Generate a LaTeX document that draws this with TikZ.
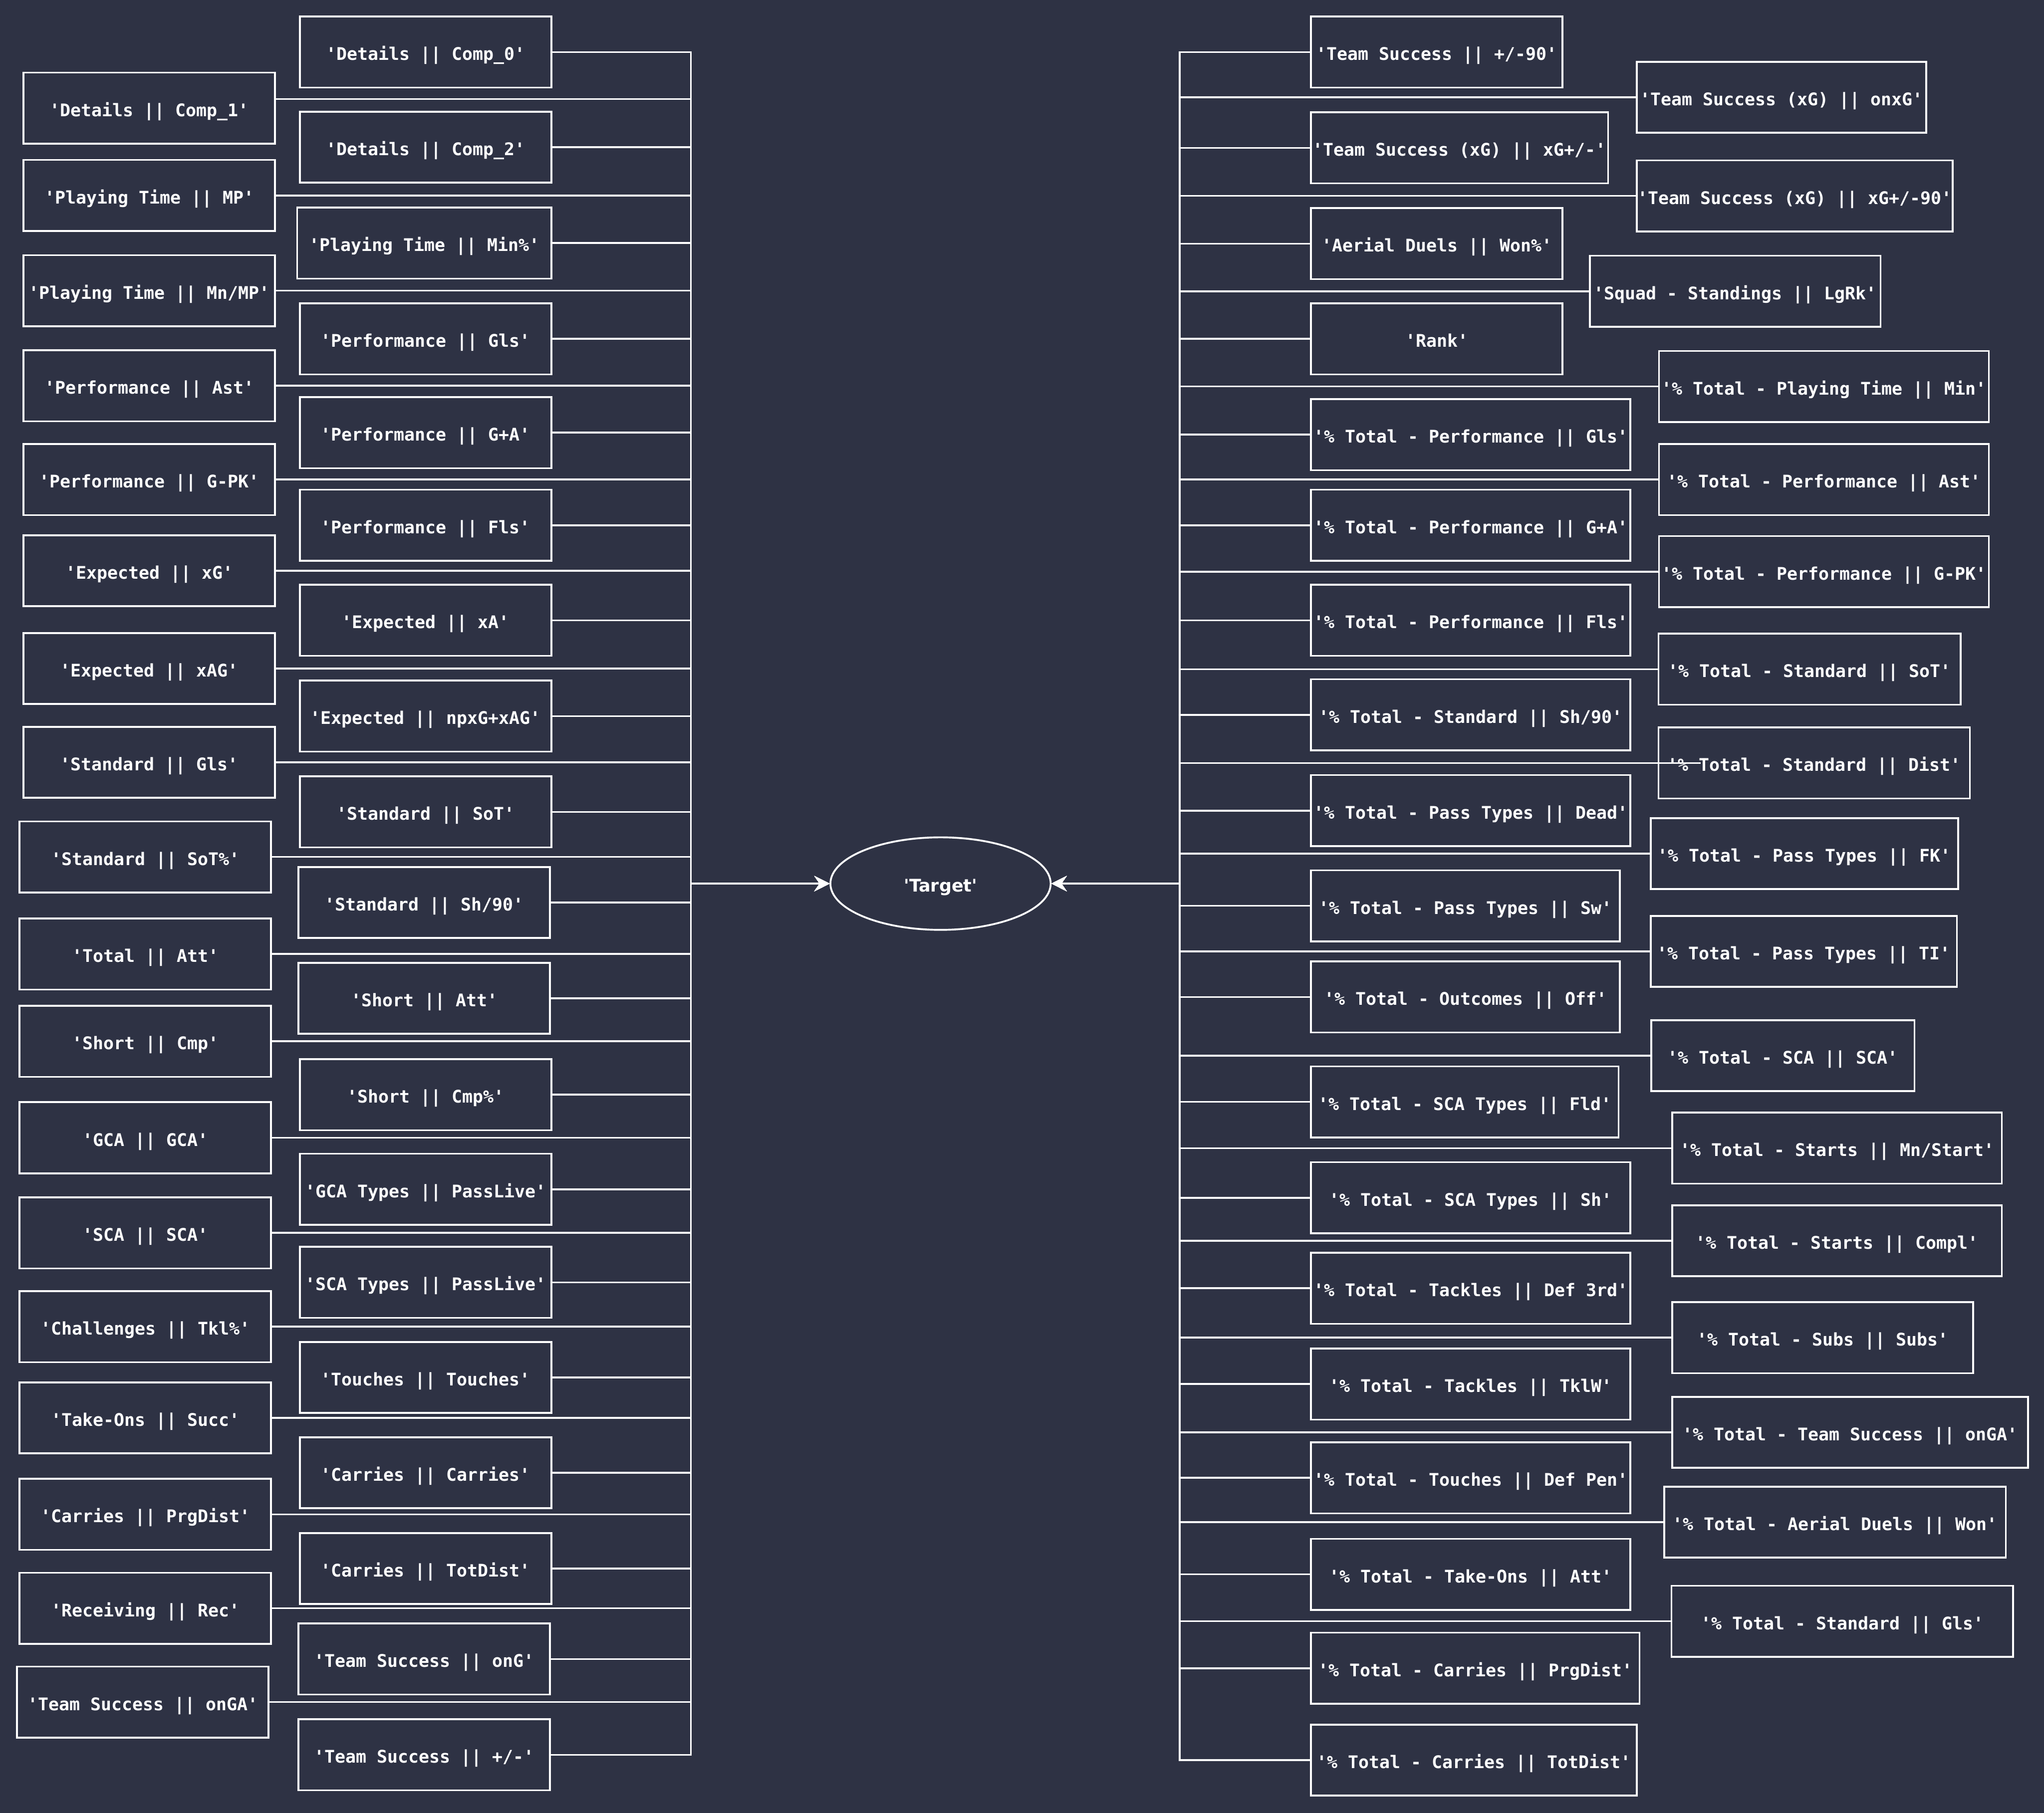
\documentclass[tikz,border=0pt]{standalone}
\usepackage{fontspec}
\setmonofont{DejaVu Sans Mono}
\newfontfamily\targetfont{DejaVu Sans}
\usetikzlibrary{arrows.meta, shapes.geometric}
\definecolor{bgdark}{HTML}{2E3244}
\tikzstyle{field} = [rectangle, draw=white, line width=0.8pt, minimum width=3.86cm, minimum height=1.09cm, inner xsep=0.01cm, text height=7.2pt, text depth=0pt, text=white, font=\ttfamily\bfseries\fontsize{7.6pt}{9pt}\selectfont]
\tikzstyle{outcome} = [ellipse, draw=white, line width=0.8pt, minimum width=3.38cm, minimum height=1.42cm, inner sep=0pt, text height=7.2pt, text depth=0pt, text=white, font=\targetfont\bfseries\fontsize{7.6pt}{9pt}\selectfont]
\tikzstyle{link} = [white, line width=0.8pt, -{Stealth[length=2.3mm, width=2.3mm, inset=0.8mm]}]

\begin{document}
\begin{tikzpicture}[x=0.02cm, y=-0.02cm]
\fill [bgdark] (0,0) rectangle (1568,1391);
\useasboundingbox (0,0) rectangle (1568,1391);

\node (tgt) [outcome] at (721.5,678) {\textquotesingle Target\textquotesingle};
\coordinate (ljoin) at (530,678);
\coordinate (rjoin) at (905,678);

\node (a1) [field] at (114.5,83) {'Details || Comp\_1'};
\node (a2) [field] at (114.5,150) {'Playing Time || MP'};
\node (a3) [field] at (114.5,223) {'Playing Time || Mn/MP'};
\node (a4) [field] at (114.5,296) {'Performance || Ast'};
\node (a5) [field] at (114.5,368) {'Performance || G-PK'};
\node (a6) [field] at (114.5,438) {'Expected || xG'};
\node (a7) [field] at (114.5,513) {'Expected || xAG'};
\node (a8) [field] at (114.5,585) {'Standard || Gls'};
\node (a9) [field] at (111.5,657.5) {'Standard || SoT\%'};
\node (a10) [field] at (111.5,732) {'Total || Att'};
\node (a11) [field] at (111.5,799) {'Short || Cmp'};
\node (a12) [field] at (111.5,873) {'GCA || GCA'};
\node (a13) [field] at (111.5,946) {'SCA || SCA'};
\node (a14) [field] at (111.5,1018) {'Challenges || Tkl\%'};
\node (a15) [field] at (111.5,1088) {'Take-Ons || Succ'};
\node (a16) [field] at (111.5,1162) {'Carries || PrgDist'};
\node (a17) [field] at (111.5,1234) {'Receiving || Rec'};
\node (a18) [field] at (109.5,1306) {'Team Success || onGA'};

\node (b1) [field] at (326.5,40) {'Details || Comp\_0'};
\node (b2) [field] at (326.5,113) {'Details || Comp\_2'};
\node (b3) [field, minimum width=3.9cm] at (325.5,186.5) {'Playing Time || Min\%'};
\node (b4) [field] at (326.5,260) {'Performance || Gls'};
\node (b5) [field] at (326.5,332) {'Performance || G+A'};
\node (b6) [field] at (326.5,403) {'Performance || Fls'};
\node (b7) [field] at (326.5,476) {'Expected || xA'};
\node (b8) [field] at (326.5,549.5) {'Expected || npxG+xAG'};
\node (b9) [field] at (326.5,623) {'Standard || SoT'};
\node (b10) [field] at (325.5,692.5) {'Standard || Sh/90'};
\node (b11) [field] at (325.5,766) {'Short || Att'};
\node (b12) [field] at (326.5,840) {'Short || Cmp\%'};
\node (b13) [field] at (326.5,912.5) {'GCA Types || PassLive'};
\node (b14) [field] at (326.5,984) {'SCA Types || PassLive'};
\node (b15) [field] at (326.5,1057) {'Touches || Touches'};
\node (b16) [field] at (326.5,1130) {'Carries || Carries'};
\node (b17) [field] at (326.5,1203.5) {'Carries || TotDist'};
\node (b18) [field] at (325.5,1273) {'Team Success || onG'};
\node (b19) [field] at (325.5,1346.5) {'Team Success || +/-'};

\node (c1) [field, anchor=west] at (1005,40) {'Team Success || +/-90'};
\node (c2) [field, anchor=west, minimum width=4.56cm] at (1005,113.5) {'Team Success (xG) || xG+/-'};
\node (c3) [field, anchor=west] at (1005,187) {'Aerial Duels || Won\%'};
\node (c4) [field, anchor=west] at (1005,260) {'Rank'};
\node (c5) [field, anchor=west, minimum width=4.9cm] at (1005,333.5) {'\% Total - Performance || Gls'};
\node (c6) [field, anchor=west, minimum width=4.9cm] at (1005,403) {'\% Total - Performance || G+A'};
\node (c7) [field, anchor=west, minimum width=4.9cm] at (1005,476) {'\% Total - Performance || Fls'};
\node (c8) [field, anchor=west, minimum width=4.9cm] at (1005,548.5) {'\% Total - Standard || Sh/90'};
\node (c9) [field, anchor=west, minimum width=4.9cm] at (1005,622) {'\% Total - Pass Types || Dead'};
\node (c10) [field, anchor=west, minimum width=4.74cm] at (1005,695) {'\% Total - Pass Types || Sw'};
\node (c11) [field, anchor=west, minimum width=4.74cm] at (1005,765) {'\% Total - Outcomes || Off'};
\node (c12) [field, anchor=west, minimum width=4.72cm] at (1005,845.5) {'\% Total - SCA Types || Fld'};
\node (c13) [field, anchor=west, minimum width=4.9cm] at (1005,919) {'\% Total - SCA Types || Sh'};
\node (c14) [field, anchor=west, minimum width=4.9cm] at (1005,988.5) {'\% Total - Tackles || Def 3rd'};
\node (c15) [field, anchor=west, minimum width=4.9cm] at (1005,1062) {'\% Total - Tackles || TklW'};
\node (c16) [field, anchor=west, minimum width=4.9cm] at (1005,1134) {'\% Total - Touches || Def Pen'};
\node (c17) [field, anchor=west, minimum width=4.9cm] at (1005,1208) {'\% Total - Take-Ons || Att'};
\node (c18) [field, anchor=west, minimum width=5.04cm] at (1005,1280) {'\% Total - Carries || PrgDist'};
\node (c19) [field, anchor=west, minimum width=5cm] at (1005,1350.5) {'\% Total - Carries || TotDist'};

\node (d1) [field, anchor=west, minimum width=4.44cm] at (1255,74.6) {'Team Success (xG) || onxG'};
\node (d2) [field, anchor=west, minimum width=4.84cm] at (1255,150.3) {'Team Success (xG) || xG+/-90'};
\node (d3) [field, anchor=west, minimum width=4.46cm] at (1219,223.5) {'Squad - Standings || LgRk'};
\node (d4) [field, anchor=west, minimum width=5.06cm] at (1272,296.5) {'\% Total - Playing Time || Min'};
\node (d5) [field, anchor=west, minimum width=5.06cm] at (1272,368) {'\% Total - Performance || Ast'};
\node (d6) [field, anchor=west, minimum width=5.06cm] at (1272,438.6) {'\% Total - Performance || G-PK'};
\node (d7) [field, anchor=west, minimum width=4.64cm] at (1271.5,513.5) {'\% Total - Standard || SoT'};
\node (d8) [field, anchor=west, minimum width=4.78cm] at (1271.5,585.5) {'\% Total - Standard || Dist'};
\node (d9) [field, anchor=west, minimum width=4.72cm] at (1265.5,655) {'\% Total - Pass Types || FK'};
\node (d10) [field, anchor=west, minimum width=4.7cm] at (1265.5,730) {'\% Total - Pass Types || TI'};
\node (d11) [field, anchor=west, minimum width=4.04cm] at (1266,810) {'\% Total - SCA || SCA'};
\node (d12) [field, anchor=west, minimum width=5.06cm] at (1282,881) {'\% Total - Starts || Mn/Start'};
\node (d13) [field, anchor=west, minimum width=5.06cm] at (1282,952) {'\% Total - Starts || Compl'};
\node (d14) [field, anchor=west, minimum width=4.62cm] at (1282,1026.4) {'\% Total - Subs || Subs'};
\node (d15) [field, anchor=west, minimum width=5.46cm] at (1282,1099) {'\% Total - Team Success || onGA'};
\node (d16) [field, anchor=west, minimum width=5.24cm] at (1276,1168) {'\% Total - Aerial Duels || Won'};
\node (d17) [field, anchor=west, minimum width=5.24cm] at (1281.5,1244) {'\% Total - Standard || Gls'};

\draw [link] ([yshift=0.14cm]a1.east) -| (ljoin) -- (tgt);
\draw [link] (a2.east) -| (ljoin) -- (tgt);
\draw [link] (a3.east) -| (ljoin) -- (tgt);
\draw [link] (a4.east) -| (ljoin) -- (tgt);
\draw [link] (a5.east) -| (ljoin) -- (tgt);
\draw [link] (a6.east) -| (ljoin) -- (tgt);
\draw [link] (a7.east) -| (ljoin) -- (tgt);
\draw [link] (a8.east) -| (ljoin) -- (tgt);
\draw [link] (a9.east) -| (ljoin) -- (tgt);
\draw [link] (a10.east) -| (ljoin) -- (tgt);
\draw [link] (a11.east) -| (ljoin) -- (tgt);
\draw [link] (a12.east) -| (ljoin) -- (tgt);
\draw [link] (a13.east) -| (ljoin) -- (tgt);
\draw [link] (a14.east) -| (ljoin) -- (tgt);
\draw [link] (a15.east) -| (ljoin) -- (tgt);
\draw [link] (a16.east) -| (ljoin) -- (tgt);
\draw [link] (a17.east) -| (ljoin) -- (tgt);
\draw [link] (a18.east) -| (ljoin) -- (tgt);

\draw [link] (b1.east) -| (ljoin) -- (tgt);
\draw [link] (b2.east) -| (ljoin) -- (tgt);
\draw [link] (b3.east) -| (ljoin) -- (tgt);
\draw [link] (b4.east) -| (ljoin) -- (tgt);
\draw [link] (b5.east) -| (ljoin) -- (tgt);
\draw [link] (b6.east) -| (ljoin) -- (tgt);
\draw [link] (b7.east) -| (ljoin) -- (tgt);
\draw [link] (b8.east) -| (ljoin) -- (tgt);
\draw [link] (b9.east) -| (ljoin) -- (tgt);
\draw [link] (b10.east) -| (ljoin) -- (tgt);
\draw [link] (b11.east) -| (ljoin) -- (tgt);
\draw [link] (b12.east) -| (ljoin) -- (tgt);
\draw [link] (b13.east) -| (ljoin) -- (tgt);
\draw [link] (b14.east) -| (ljoin) -- (tgt);
\draw [link] (b15.east) -| (ljoin) -- (tgt);
\draw [link] (b16.east) -| (ljoin) -- (tgt);
\draw [link] (b17.east) -| (ljoin) -- (tgt);
\draw [link] (b18.east) -| (ljoin) -- (tgt);
\draw [link] (b19.east) -| (ljoin) -- (tgt);

\draw [link] (c1.west) -| (rjoin) -- (tgt);
\draw [link] (c2.west) -| (rjoin) -- (tgt);
\draw [link] (c3.west) -| (rjoin) -- (tgt);
\draw [link] (c4.west) -| (rjoin) -- (tgt);
\draw [link] (c5.west) -| (rjoin) -- (tgt);
\draw [link] (c6.west) -| (rjoin) -- (tgt);
\draw [link] (c7.west) -| (rjoin) -- (tgt);
\draw [link] (c8.west) -| (rjoin) -- (tgt);
\draw [link] (c9.west) -| (rjoin) -- (tgt);
\draw [link] (c10.west) -| (rjoin) -- (tgt);
\draw [link] (c11.west) -| (rjoin) -- (tgt);
\draw [link] (c12.west) -| (rjoin) -- (tgt);
\draw [link] (c13.west) -| (rjoin) -- (tgt);
\draw [link] (c14.west) -| (rjoin) -- (tgt);
\draw [link] (c15.west) -| (rjoin) -- (tgt);
\draw [link] (c16.west) -| (rjoin) -- (tgt);
\draw [link] (c17.west) -| (rjoin) -- (tgt);
\draw [link] (c18.west) -| (rjoin) -- (tgt);
\draw [link] (c19.west) -| (rjoin) -- (tgt);

\draw [link] (d1.west) -| (rjoin) -- (tgt);
\draw [link] (d2.west) -| (rjoin) -- (tgt);
\draw [link] (d3.west) -| (rjoin) -- (tgt);
\draw [link] (d4.west) -| (rjoin) -- (tgt);
\draw [link] (d5.west) -| (rjoin) -- (tgt);
\draw [link] (d6.west) -| (rjoin) -- (tgt);
\draw [link] (d7.west) -| (rjoin) -- (tgt);
\draw [link] ([xshift=0.66cm]d8.west) -| (rjoin) -- (tgt);
\draw [link] (d9.west) -| (rjoin) -- (tgt);
\draw [link] (d10.west) -| (rjoin) -- (tgt);
\draw [link] (d11.west) -| (rjoin) -- (tgt);
\draw [link] (d12.west) -| (rjoin) -- (tgt);
\draw [link] (d13.west) -| (rjoin) -- (tgt);
\draw [link] (d14.west) -| (rjoin) -- (tgt);
\draw [link] (d15.west) -| (rjoin) -- (tgt);
\draw [link] (d16.west) -| (rjoin) -- (tgt);
\draw [link] (d17.west) -| (rjoin) -- (tgt);
\end{tikzpicture}
\end{document}
